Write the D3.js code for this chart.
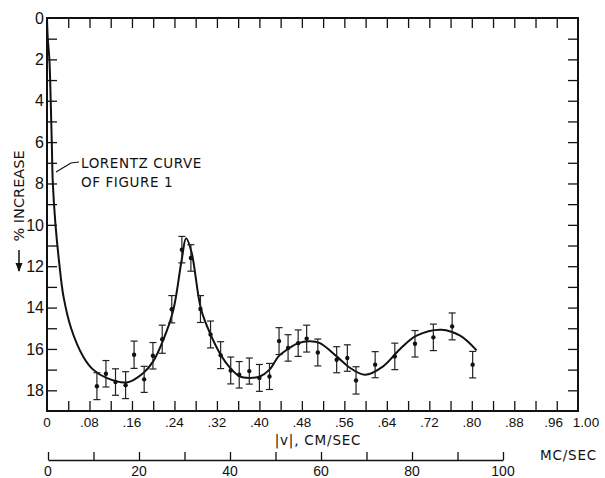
<!DOCTYPE html>
<html>
<head>
<meta charset="utf-8">
<script src="https://cdn.jsdelivr.net/npm/d3@7"></script>
<style>
  body { margin: 0; background: #fff; }
  svg { display: block; font-family: "DejaVu Sans", "Liberation Sans", sans-serif; }
  .ink { stroke: #111; fill: none; }
  text { fill: #111; }
</style>
</head>
<body>
<div id="chart"></div>
<script>
// measured points: |v| in cm/sec, % increase, error half-height
const velocity = [0.094, 0.111, 0.129, 0.148, 0.164, 0.183, 0.1995, 0.217, 0.235, 0.254, 0.271,
  0.289, 0.308, 0.327, 0.346, 0.362, 0.381, 0.400, 0.419, 0.437, 0.454, 0.473, 0.489, 0.510,
  0.5455, 0.5656, 0.582, 0.618, 0.655, 0.693, 0.7276, 0.763, 0.8016];
const increase = [17.8, 17.2, 17.6, 17.75, 16.28, 17.47, 16.33, 15.53, 14.08, 11.2, 11.6,
  14.07, 15.3, 16.3, 17.04, 17.25, 17.07, 17.4, 17.33, 15.62, 15.95, 15.72, 15.5, 16.17,
  16.52, 16.44, 17.52, 16.76, 16.36, 15.75, 15.44, 14.91, 16.76];
const errors = [0.65, 0.64, 0.64, 0.65, 0.66, 0.63, 0.64, 0.68, 0.66, 0.64, 0.64,
  0.65, 0.65, 0.65, 0.65, 0.64, 0.63, 0.65, 0.63, 0.65, 0.64, 0.64, 0.65, 0.65,
  0.63, 0.64, 0.66, 0.63, 0.64, 0.64, 0.64, 0.65, 0.64];

// smooth curve
const curveV = [0, 0.0015, 0.0045, 0.007, 0.009, 0.011, 0.016, 0.023, 0.031, 0.046, 0.068, 0.087,
  0.112, 0.15, 0.181, 0.2, 0.219, 0.238, 0.2536, 0.262, 0.272, 0.29, 0.308, 0.327, 0.346, 0.363,
  0.381, 0.401, 0.419, 0.436, 0.454, 0.473, 0.495, 0.514, 0.5455, 0.571, 0.599, 0.633, 0.665,
  0.696, 0.743, 0.778, 0.809];
const curveY = [0, 1, 2, 4, 6, 8, 10, 11.84, 13.46, 15.05, 16.36, 17.0,
  17.4, 17.62, 17.17, 16.6, 15.56, 14.1, 11.7, 10.65, 11.3, 14.07, 15.3, 16.28, 16.95, 17.33,
  17.4, 17.33, 17.0, 16.36, 16.0, 15.72, 15.63, 15.72, 16.36, 16.92, 17.25, 16.84, 16.0,
  15.36, 15.07, 15.36, 16.07];

const yLabels = [0, 2, 4, 6, 8, 10, 12, 14, 16, 18];
const xLabels = ["0", ".08", ".16", ".24", ".32", ".40", ".48", ".56", ".64", ".72", ".80", ".88", ".96", "1.00"];
const mcLabels = [0, 20, 40, 60, 80, 100];

const width = 605, height = 478;
const svg = d3.select('#chart').append('svg')
  .attr('width', width)
  .attr('height', height);

const x = d3.scaleLinear().domain([0, 1]).range([47, 578]);
const y = d3.scaleLinear().domain([0, 19]).range([18, 411]);
const mc = d3.scaleLinear().domain([0, 100]).range([48, 503]);

// ticks every 0.04 / every unit, drawn inward on all four sides
const xTicks = d3.range(1, 25).map(d => d * 0.04);
const yTicks = d3.range(1, 19);

// bottom axis
let bottomAxis = svg.append('g').attr('transform', 'translate(0,411)');
bottomAxis.call(d3.axisBottom(x).tickValues(xTicks).tickSize(-10).tickSizeOuter(0).tickFormat(''));
bottomAxis.append('g').selectAll('text')
  .data(xLabels)
  .enter()
  .append('text')
  .attr('x', (d, i) => x(Math.min(i * 0.08, 1)))
  .attr('y', 16)
  .attr('text-anchor', 'middle')
  .attr('dx', (d, i) => i === 13 ? 8 : (i === 12 ? -3 : 0))
  .style('font-size', '13.5px')
  .text(d => d);

// top axis
let topAxis = svg.append('g').attr('transform', 'translate(0,18)');
topAxis.call(d3.axisTop(x).tickValues(xTicks).tickSize(-10).tickSizeOuter(0).tickFormat(''));

// left axis
let leftAxis = svg.append('g').attr('transform', 'translate(47,0)');
leftAxis.call(d3.axisLeft(y).tickValues(yTicks).tickSize(-10).tickSizeOuter(0).tickFormat(''));
leftAxis.append('g').selectAll('text')
  .data(yLabels)
  .enter()
  .append('text')
  .attr('x', -3)
  .attr('y', d => y(d))
  .attr('dy', '0.36em')
  .attr('text-anchor', 'end')
  .style('font-family', '"Liberation Sans", sans-serif')
  .style('font-size', '16px')
  .text(d => d);

// right axis
let rightAxis = svg.append('g').attr('transform', 'translate(578,0)');
rightAxis.call(d3.axisRight(y).tickValues(yTicks).tickSize(-10).tickSizeOuter(0).tickFormat(''));

svg.selectAll('.domain').remove();
svg.selectAll('.tick line').attr('stroke', '#111').attr('stroke-width', 1.3);

// frame
svg.append('rect')
  .attr('class', 'ink')
  .attr('x', x(0)).attr('y', y(0))
  .attr('width', x(1) - x(0)).attr('height', y(19) - y(0))
  .attr('stroke-width', 2);

// axis title
svg.append('text')
  .attr('x', 318)
  .attr('y', 445)
  .attr('text-anchor', 'middle')
  .style('font-size', '13.5px')
  .style('letter-spacing', '0.8px')
  .text('|v|, CM/SEC');

svg.append('text')
  .attr('transform', 'translate(24,196) rotate(-90)')
  .attr('text-anchor', 'middle')
  .style('font-size', '14.5px')
  .text('% INCREASE');

// down arrow beside the y title
svg.append('path')
  .attr('class', 'ink')
  .attr('stroke-width', 1.5)
  .attr('d', 'M19,250 L19,271');
svg.append('path')
  .attr('fill', '#111')
  .attr('d', 'M15.5,263 L19,272 L22.5,263 Z');

// MC/SEC scale
let mcAxis = svg.append('g').attr('transform', 'translate(0,460)');
mcAxis.call(d3.axisTop(mc).tickValues(d3.range(0, 101, 10)).tickSize(8).tickSizeOuter(0).tickFormat(''));
mcAxis.select('.domain').attr('stroke', '#111').attr('stroke-width', 1.3);
mcAxis.selectAll('.tick line').attr('stroke', '#111').attr('stroke-width', 1.3);
mcAxis.append('g').selectAll('text')
  .data(mcLabels)
  .enter()
  .append('text')
  .attr('x', d => mc(d))
  .attr('y', 15.5)
  .attr('text-anchor', 'middle')
  .style('font-size', '14px')
  .text(d => d);
svg.append('text')
  .attr('x', 540)
  .attr('y', 460)
  .style('font-size', '13.5px')
  .style('letter-spacing', '0.8px')
  .text('MC/SEC');

// fitted curve
let curvePts = curveV.map((v, i) => [v, curveY[i]]);
let line = d3.line()
  .x(d => x(d[0]))
  .y(d => y(d[1]))
  .curve(d3.curveCatmullRom.alpha(0.5));
svg.append('path')
  .datum(curvePts)
  .attr('class', 'ink')
  .attr('stroke-width', 2)
  .attr('d', line);

// error bars and points
let pts = velocity.map((v, i) => ({ v: v, p: increase[i], e: errors[i] }));
let bars = svg.append('g').selectAll('g')
  .data(pts)
  .enter()
  .append('g');
bars.append('line')
  .attr('x1', d => x(d.v)).attr('x2', d => x(d.v))
  .attr('y1', d => y(d.p - d.e)).attr('y2', d => y(d.p + d.e))
  .attr('stroke', '#222').attr('stroke-width', 1.2);
bars.append('line')
  .attr('x1', d => x(d.v) - 3.5).attr('x2', d => x(d.v) + 3.5)
  .attr('y1', d => y(d.p - d.e)).attr('y2', d => y(d.p - d.e))
  .attr('stroke', '#222').attr('stroke-width', 1.2);
bars.append('line')
  .attr('x1', d => x(d.v) - 3.5).attr('x2', d => x(d.v) + 3.5)
  .attr('y1', d => y(d.p + d.e)).attr('y2', d => y(d.p + d.e))
  .attr('stroke', '#222').attr('stroke-width', 1.2);
bars.append('circle')
  .attr('cx', d => x(d.v)).attr('cy', d => y(d.p))
  .attr('r', 2.2)
  .attr('fill', '#111');

// annotation
svg.append('path')
  .attr('class', 'ink')
  .attr('stroke-width', 1.2)
  .attr('d', 'M79,162 L71,163 L56,172');
svg.append('text')
  .attr('x', 81).attr('y', 168)
  .style('font-size', '13.5px')
  .style('letter-spacing', '0.6px')
  .text('LORENTZ CURVE');
svg.append('text')
  .attr('x', 81).attr('y', 187)
  .style('font-size', '13.5px')
  .style('letter-spacing', '0.6px')
  .text('OF FIGURE 1');
</script>
</body>
</html>
